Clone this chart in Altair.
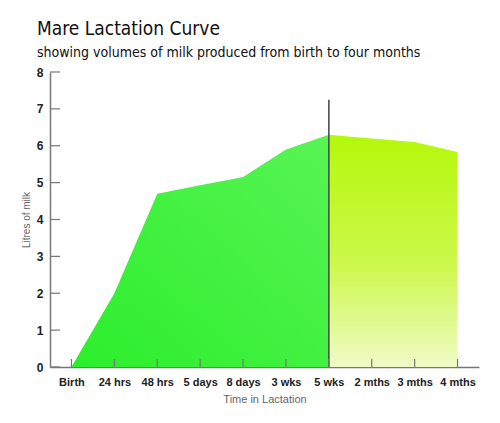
import altair as alt
import pandas as pd

stages = ["Birth", "24 hrs", "48 hrs", "5 days", "8 days", "3 wks", "5 wks", "2 mths", "3 mths", "4 mths"]
litres = [0, 2.0, 4.7, 4.93, 5.15, 5.9, 6.3, 6.2, 6.1, 5.83]
split_stage = "5 wks"
split_top = 7.25
y_ticks = [0, 1, 2, 3, 4, 5, 6, 7, 8]

df = pd.DataFrame({"stage": stages, "litres": litres})
split_i = stages.index(split_stage)
left = df.iloc[: split_i + 1]
right = df.iloc[split_i:]

W, H = 429, 295
xscale = alt.Scale(domain=stages, type="point", padding=0.5)
yscale = alt.Scale(domain=[0, 8])

label_font = "Liberation Sans, Arial, sans-serif"
title_font = "DejaVu Sans Condensed, Liberation Sans Narrow, Roboto, sans-serif"

x_axis = alt.Axis(title="Time in Lactation", labelAngle=0, tickSize=0,
                  labelPadding=9, labelFont=label_font, labelFontWeight="bold",
                  labelFontSize=11, labelColor="#222", titleFont=label_font,
                  titleFontWeight="normal", titleFontSize=11, titleColor="#666",
                  titlePadding=6, domainColor="#777", domainWidth=1.5)
y_axis = alt.Axis(title="Litres of milk", values=y_ticks, tickSize=0, grid=False,
                  labelOverlap=False, labelFlush=False,
                  labelPadding=7, labelFont=label_font, labelFontWeight="bold",
                  labelFontSize=12, labelColor="#222", titleFont=label_font,
                  titleFontWeight="normal", titleFontSize=10, titleColor="#666",
                  titlePadding=5, domainColor="#777", domainWidth=1.5)

def xe(field):
    return alt.X(field, type="nominal", scale=xscale, sort=stages, axis=x_axis)

def ye(field):
    return alt.Y(field, type="quantitative", scale=yscale, axis=y_axis)

left_grad = alt.Gradient(gradient="linear",
                         stops=[alt.GradientStop(offset=0, color="#2cee2c"),
                                alt.GradientStop(offset=1, color="#58f454")],
                         x1=0, y1=1, x2=1, y2=0)
right_grad = alt.Gradient(gradient="linear",
                          stops=[alt.GradientStop(offset=0, color="#b4f80a"),
                                 alt.GradientStop(offset=0.55, color="#cdf84a"),
                                 alt.GradientStop(offset=1, color="#f0fbc6")],
                          x1=0, y1=0, x2=0, y2=1)

area_left = alt.Chart(left).mark_area(color=left_grad, opacity=1).encode(x=xe("stage"), y=ye("litres"))
area_right = alt.Chart(right).mark_area(color=right_grad, opacity=1).encode(x=xe("stage"), y=ye("litres"))

split_df = pd.DataFrame({"stage": [split_stage], "top": [split_top], "bottom": [0]})
split_rule = alt.Chart(split_df).mark_rule(color="#444", strokeWidth=1.5).encode(
    x=xe("stage"), y=ye("top"), y2="bottom:Q")

ytick_df = pd.DataFrame({"v": y_ticks})
y_tick_rules = alt.Chart(ytick_df).mark_rule(color="#777", strokeWidth=1.2).encode(
    y=ye("v"), x=alt.value(0), x2=alt.value(10))

xtick_df = pd.DataFrame({"stage": stages})
x_tick_rules = alt.Chart(xtick_df).mark_rule(color="#777", strokeWidth=1.2).encode(
    x=xe("stage"), y=alt.value(H), y2=alt.value(H - 8))

chart = alt.layer(area_left, area_right, split_rule, y_tick_rules, x_tick_rules).properties(
    width=W, height=H,
    autosize=alt.AutoSizeParams(type="none"),
    padding={"left": 42, "top": 64, "right": 13, "bottom": 48},
    title=alt.TitleParams(text="Mare Lactation Curve",
                          subtitle="showing volumes of milk produced from birth to four months",
                          anchor="start", frame="group", dx=-13, offset=6,
                          font=title_font, fontSize=19, fontWeight="normal", color="#111",
                          subtitleFont=title_font, subtitleFontSize=14, subtitleColor="#111",
                          subtitlePadding=7),
).configure_view(stroke=None)

chart.save("out.html", embed_options={"renderer": "svg", "actions": False})
